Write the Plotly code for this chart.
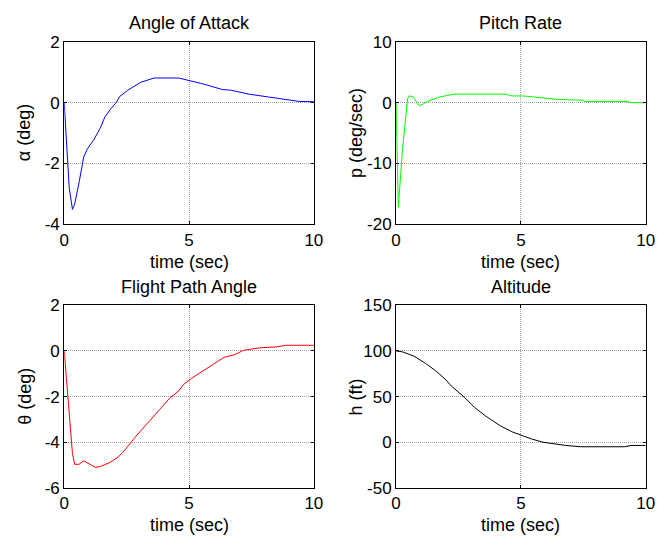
import plotly.graph_objects as go

# ---- data ----
t_alpha = [0, 0.1, 0.2, 0.33, 0.42, 0.6, 0.78, 0.92, 1.2, 1.44, 1.63, 1.85, 2.09, 2.22, 2.55, 3.07, 3.6, 4.58, 5.03, 5.49, 6.34, 6.67, 7.39, 8.1, 8.89, 9.41, 10]
alpha = [0, -1.5, -2.8, -3.51, -3.33, -2.6, -1.79, -1.53, -1.2, -0.84, -0.47, -0.22, 0.01, 0.2, 0.41, 0.67, 0.81, 0.81, 0.72, 0.63, 0.43, 0.41, 0.28, 0.19, 0.085, 0.04, 0.03]

t_p = [0, 0.09, 0.25, 0.46, 0.52, 0.68, 0.92, 1.05, 1.31, 1.76, 2.35, 2.75, 4.38, 4.64, 5.1, 6.54, 7.45, 7.58, 9.28, 9.41, 10]
p = [0, -17.2, -8.0, 0.6, 1.1, 1.0, -0.5, -0.3, 0.3, 0.95, 1.4, 1.4, 1.4, 1.1, 1.1, 0.5, 0.4, 0.2, 0.2, 0.0, 0.0]

t_theta = [0, 0.15, 0.33, 0.42, 0.59, 0.78, 0.98, 1.24, 1.44, 1.83, 2.16, 2.35, 2.88, 3.27, 3.79, 4.25, 4.58, 4.77, 5.1, 5.49, 5.88, 6.4, 6.8, 7.19, 7.84, 8.5, 8.89, 10]
theta = [0, -2.2, -4.5, -4.97, -4.97, -4.82, -4.93, -5.1, -5.07, -4.89, -4.65, -4.44, -3.73, -3.24, -2.61, -2.04, -1.76, -1.48, -1.2, -0.92, -0.63, -0.28, -0.17, 0.03, 0.14, 0.18, 0.25, 0.25]

t_h = [0, 0.26, 0.72, 1.18, 1.57, 1.96, 2.22, 2.75, 3.14, 3.59, 4.18, 4.64, 5.1, 5.42, 5.88, 6.4, 6.8, 7.39, 9.15, 9.41, 10]
h = [100, 99, 94.3, 86.4, 78.6, 69.3, 61.4, 48.9, 38.2, 28.6, 17.9, 11.4, 6.8, 3.6, 0, -2.1, -3.6, -5, -5, -3.6, -3.6]

titles = ["Angle of Attack", "Pitch Rate", "Flight Path Angle", "Altitude"]
ylabels = ["α (deg)", "p (deg/sec)", "θ (deg)", "h (ft)"]
xlabel = "time (sec)"

x_ticks = [0, 5, 10]
x_ticktext = ["0", "5", "10"]
y_ticks = [[-4, -2, 0, 2], [-20, -10, 0, 10], [-6, -4, -2, 0, 2], [-50, 0, 50, 100, 150]]
y_ticktext = [["-4", "-2", "0", "2"], ["-20", "-10", "0", "10"],
              ["-6", "-4", "-2", "0", "2"], ["-50", "0", "50", "100", "150"]]
y_ranges = [[-4, 2], [-20, 10], [-6, 2], [-50, 150]]

W, H = 665, 548
FONT = "Liberation Sans, Arial, sans-serif"
FS_TICK = 17
FS_TEXT = 18

# pixel boxes (left, top, right, bottom)
boxes = [(60.5, 34, 315.5, 223), (399.5, 34, 654.5, 223),
         (60.5, 307, 315.5, 496), (399.5, 307, 654.5, 496)]

series = [(t_alpha, alpha, "#0000ff"), (t_p, p, "#00ff00"),
          (t_theta, theta, "#ff0000"), (t_h, h, "#000000")]

fig = go.Figure()
layout = {}
annotations = []
for i, (box, (tx, ty, col)) in enumerate(zip(boxes, series)):
    n = "" if i == 0 else str(i + 1)
    l, tp, r, b = box
    xd = [l / W, r / W]
    yd = [1 - b / H, 1 - tp / H]
    fig.add_trace(go.Scatter(x=tx, y=ty, mode="lines", line=dict(color=col, width=1),
                             xaxis="x" + n, yaxis="y" + n, showlegend=False, hoverinfo="skip"))
    common = dict(showline=True, linecolor="black", linewidth=1, mirror="ticks",
                  ticks="inside", ticklen=3, tickcolor="black", tickwidth=1,
                  showgrid=True, gridcolor="#a0a0a0", griddash="1px,1px", gridwidth=1,
                  zeroline=False, tickfont=dict(family=FONT, size=FS_TICK, color="black"))
    layout["xaxis" + n] = dict(domain=xd, range=[0, 10], tickvals=x_ticks, ticktext=x_ticktext,
                               anchor="y" + n, **common)
    layout["yaxis" + n] = dict(domain=yd, range=y_ranges[i], tickvals=y_ticks[i],
                               ticktext=y_ticktext[i], anchor="x" + n, **common)
    cx = (l + r) / 2 / W
    annotations.append(dict(text=titles[i], x=cx, y=1 - (tp - 19) / H, xref="paper", yref="paper",
                            xanchor="center", yanchor="middle", showarrow=False,
                            font=dict(family=FONT, size=FS_TEXT, color="black")))
    annotations.append(dict(text=xlabel, x=cx, y=1 - (b + 39) / H, xref="paper", yref="paper",
                            xanchor="center", yanchor="middle", showarrow=False,
                            font=dict(family=FONT, size=FS_TEXT, color="black")))
    annotations.append(dict(text=ylabels[i], x=(l - 41) / W, y=1 - (tp + b) / 2 / H,
                            xref="paper", yref="paper", xanchor="center", yanchor="middle",
                            textangle=-90, showarrow=False,
                            font=dict(family=FONT, size=FS_TEXT, color="black")))

fig.update_layout(width=W, height=H, margin=dict(l=0, r=0, t=0, b=0),
                  paper_bgcolor="white", plot_bgcolor="white",
                  annotations=annotations, **layout)
fig.write_html("out.html")
